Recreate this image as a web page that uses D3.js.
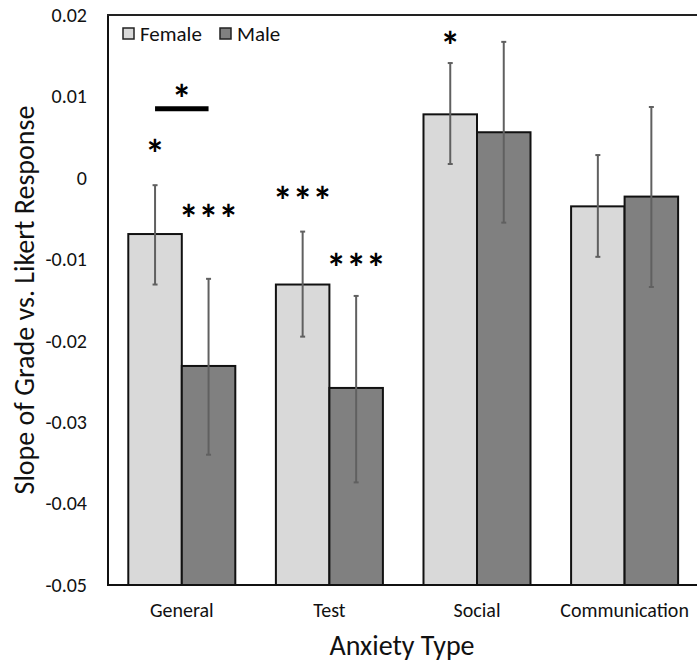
<!DOCTYPE html>
<html><head><meta charset="utf-8">
<script src="https://cdn.jsdelivr.net/npm/d3@7"></script>
<style>body{margin:0;background:#fff}svg{display:block}text{font-family:Carlito,Calibri,Lato,"Open Sans",sans-serif}</style>
</head><body>
<svg id="c" width="697" height="663"></svg>
<script>
const categories = ["General", "Test", "Social", "Communication"];
const seriesNames = ["Female", "Male"];
const femaleValues = [-0.0069, -0.0131, 0.0078, -0.0035];
const maleValues = [-0.0231, -0.0258, 0.0056, -0.0023];
const femaleErrLow = [-0.0131, -0.0195, 0.0017, -0.0097];
const femaleErrHigh = [-0.0009, -0.0066, 0.0141, 0.0028];
const maleErrLow = [-0.0340, -0.0374, -0.0055, -0.0134];
const maleErrHigh = [-0.0124, -0.0145, 0.0167, 0.0087];
const yTicks = [0.02, 0.01, 0, -0.01, -0.02, -0.03, -0.04, -0.05];
const annotations = [
  {cat: "General", ser: "Female", label: "*", at: 0.0037},
  {cat: "General", ser: "Male", label: "***", at: -0.0043},
  {cat: "Test", ser: "Female", label: "***", at: -0.0021},
  {cat: "Test", ser: "Male", label: "***", at: -0.0103},
  {cat: "Social", ser: "Female", label: "*", at: 0.0169}
];
const bracket = {cat: "General", line: 0.0085, star: 0.0104};

const colors = {Female: "#d9d9d9", Male: "#808080"};
const svg = d3.select("#c");
const L = 108, T = 15, B = 585, R = 698.4;
const FONT = "Carlito,Calibri,Lato,sans-serif";

const x = d3.scaleBand().domain(categories).range([L, R]).paddingInner(0.275).paddingOuter(0.1375);
const xs = d3.scaleBand().domain(seriesNames).range([0, x.bandwidth()]);
const y = d3.scaleLinear().domain([-0.05, 0.02]).range([B, T]);

const rows = [];
categories.forEach((c, i) => {
  rows.push({cat: c, ser: "Female", v: femaleValues[i], lo: femaleErrLow[i], hi: femaleErrHigh[i]});
  rows.push({cat: c, ser: "Male", v: maleValues[i], lo: maleErrLow[i], hi: maleErrHigh[i]});
});

// bars
svg.append("g").selectAll("rect").data(rows).join("rect")
  .attr("x", d => x(d.cat) + xs(d.ser))
  .attr("width", xs.bandwidth())
  .attr("y", d => y(d.v))
  .attr("height", d => B - y(d.v))
  .attr("fill", d => colors[d.ser])
  .attr("stroke", "#111").attr("stroke-width", 2);

// error bars
const eg = svg.append("g").attr("stroke", "#606060").attr("stroke-width", 2);
rows.forEach(d => {
  const cx = x(d.cat) + xs(d.ser) + xs.bandwidth() / 2;
  eg.append("line").attr("x1", cx).attr("x2", cx).attr("y1", y(d.hi)).attr("y2", y(d.lo));
  eg.append("line").attr("x1", cx - 2.5).attr("x2", cx + 2.5).attr("y1", y(d.hi)).attr("y2", y(d.hi));
  eg.append("line").attr("x1", cx - 2.5).attr("x2", cx + 2.5).attr("y1", y(d.lo)).attr("y2", y(d.lo));
});

// frame
svg.append("line").attr("x1", L).attr("x2", L).attr("y1", T).attr("y2", B).attr("stroke", "#111").attr("stroke-width", 2);
svg.append("line").attr("x1", L - 1).attr("x2", 697).attr("y1", T).attr("y2", T).attr("stroke", "#222").attr("stroke-width", 2);
svg.append("line").attr("x1", L - 1).attr("x2", 697).attr("y1", B).attr("y2", B).attr("stroke", "#111").attr("stroke-width", 2);

// y axis
const ya = svg.append("g").attr("transform", `translate(${L},0)`)
  .call(d3.axisLeft(y).tickValues(yTicks).tickSize(0).tickPadding(21)
    .tickFormat(d => d === 0 ? "0" : d3.format(".2f")(d).replace("\u2212", "-")));
ya.select(".domain").remove();
ya.selectAll("text").attr("font-size", 20).attr("fill", "#111").style("font-family", FONT);

// x axis
const xa = svg.append("g").attr("transform", `translate(0,${B})`)
  .call(d3.axisBottom(x).tickSize(0).tickPadding(18));
xa.select(".domain").remove();
xa.selectAll("text").attr("font-size", 20).attr("fill", "#111").style("font-family", FONT);

// axis titles
svg.append("text").attr("x", 402).attr("y", 655).attr("text-anchor", "middle")
  .attr("font-size", 28).attr("fill", "#111").text("Anxiety Type");
svg.append("text").attr("transform", "translate(34,300) rotate(-90)").attr("text-anchor", "middle")
  .attr("font-size", 28).attr("fill", "#111").text("Slope of Grade vs. Likert Response");

// legend
const lg = svg.append("g");
const legX = [123, 220];
seriesNames.forEach((s, i) => {
  lg.append("rect").attr("x", legX[i]).attr("y", 28).attr("width", 11).attr("height", 11)
    .attr("fill", colors[s]).attr("stroke", "#222").attr("stroke-width", 1.5);
  lg.append("text").attr("x", legX[i] + 17).attr("y", 41).attr("font-size", 21).attr("fill", "#111").text(s);
});

// annotations
const AS = 40;
const ag = svg.append("g");
annotations.forEach(a => {
  const cx = x(a.cat) + xs(a.ser) + xs.bandwidth() / 2;
  ag.append("text").attr("x", cx).attr("y", y(a.at) + AS * 0.5).attr("text-anchor", "middle")
    .attr("font-size", AS).attr("font-weight", "bold")
    .attr("fill", "#000").text(a.label);
});
const bx0 = x(bracket.cat) + xs("Female") + xs.bandwidth() / 2;
const bx1 = x(bracket.cat) + xs("Male") + xs.bandwidth() / 2;
ag.append("line").attr("x1", bx0).attr("x2", bx1).attr("y1", y(bracket.line)).attr("y2", y(bracket.line))
  .attr("stroke", "#000").attr("stroke-width", 5);
ag.append("text").attr("x", (bx0 + bx1) / 2).attr("y", y(bracket.star) + AS * 0.5).attr("text-anchor", "middle")
  .attr("font-size", AS).attr("font-weight", "bold").attr("fill", "#000").text("*");
</script>
</body></html>
